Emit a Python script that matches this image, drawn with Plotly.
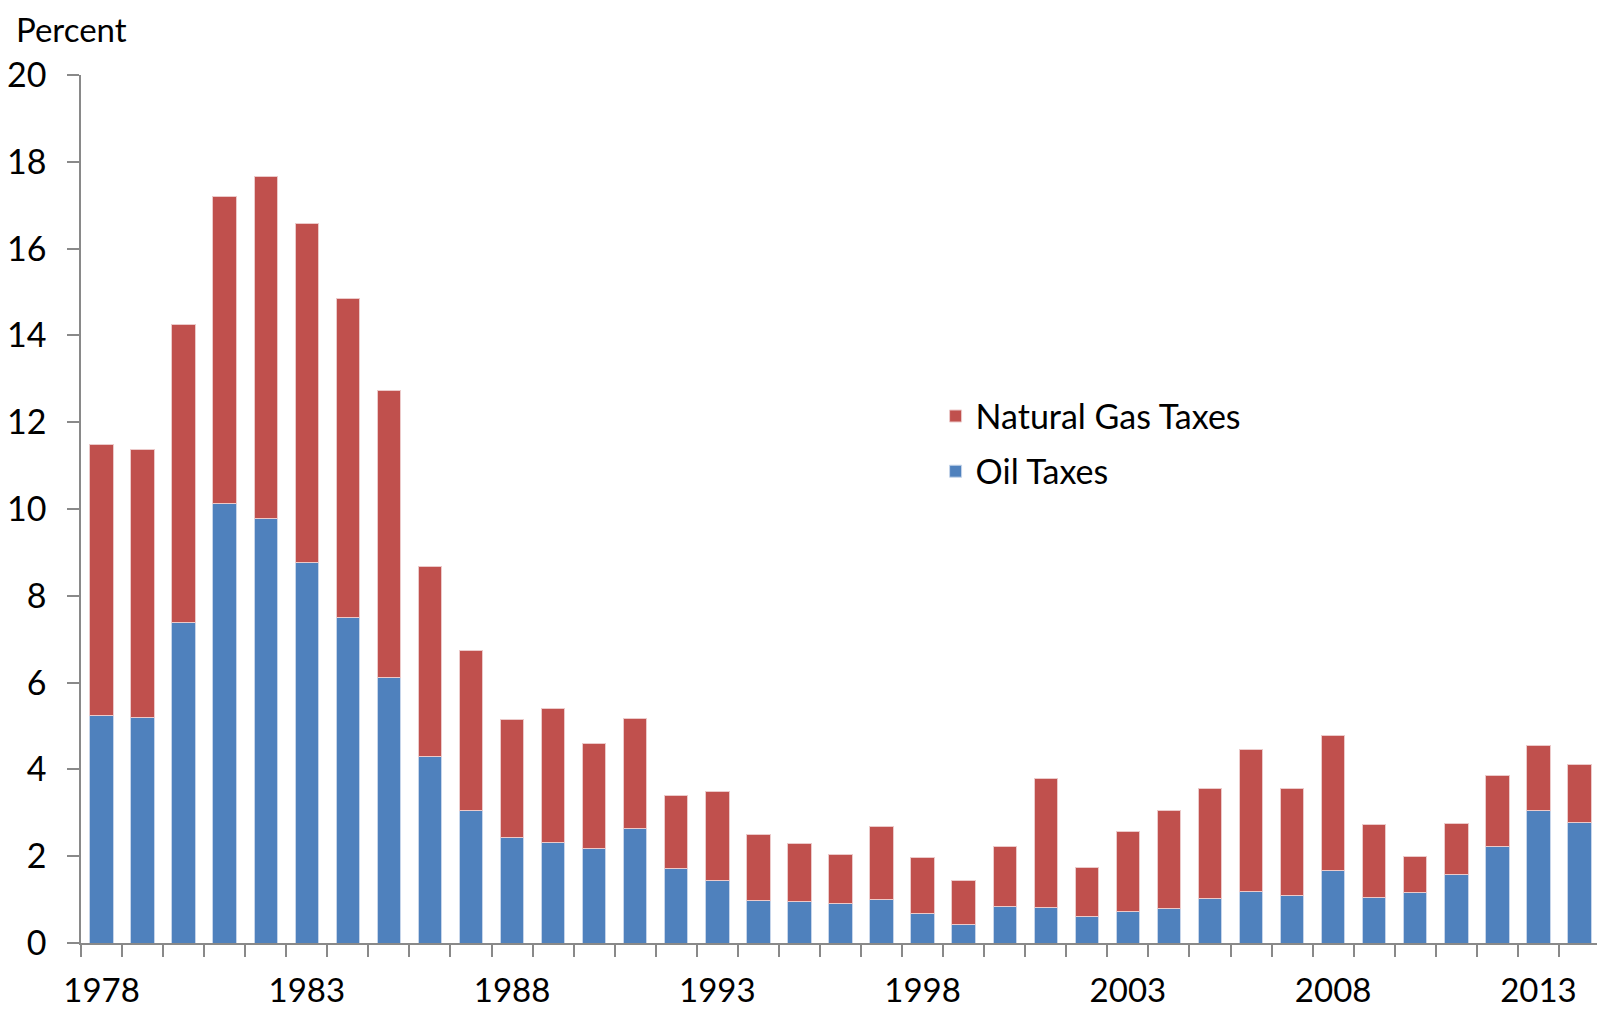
import plotly.graph_objects as go

years = [str(y) for y in range(1978, 2015)]

oil_taxes = [5.25, 5.19, 7.38, 10.13, 9.79, 8.76, 7.50, 6.12, 4.29, 3.05,
             2.42, 2.32, 2.18, 2.63, 1.72, 1.45, 0.99, 0.95, 0.92, 1.00,
             0.68, 0.43, 0.83, 0.82, 0.60, 0.72, 0.80, 1.03, 1.19, 1.09,
             1.66, 1.05, 1.16, 1.57, 2.23, 3.05, 2.77]

gas_taxes = [6.23, 6.17, 6.87, 7.08, 7.86, 7.82, 7.34, 6.61, 4.38, 3.70,
             2.73, 3.08, 2.42, 2.54, 1.69, 2.03, 1.50, 1.35, 1.12, 1.68,
             1.29, 1.02, 1.40, 2.97, 1.15, 1.85, 2.26, 2.54, 3.26, 2.47,
             3.11, 1.68, 0.83, 1.18, 1.62, 1.49, 1.35]

tick_labels = [y if (int(y) - 1978) % 5 == 0 else "" for y in years]

FONT = "Lato, 'Open Sans', sans-serif"
AXIS_GREY = "#898989"

fig = go.Figure()
fig.add_trace(go.Bar(
    x=years, y=oil_taxes, name="Oil Taxes",
    legendgroup="oil", legendrank=2,
    marker=dict(color="#4F81BD", line=dict(color="#c6d5ea", width=1))
))
fig.add_trace(go.Bar(
    x=years, y=gas_taxes, name="Natural Gas Taxes",
    legendgroup="gas", legendrank=1,
    marker=dict(color="#C0504D", line=dict(color="#eccaca", width=1))
))

# page body adds an 8px margin, so the figure is sized to fit inside the window
fig.update_layout(
    width=1597, height=1001,
    barmode="stack",
    bargap=0.43,
    plot_bgcolor="white",
    paper_bgcolor="white",
    font=dict(family=FONT, size=34, color="black"),
    margin=dict(l=73, r=5, t=67, b=66),
    legend=dict(
        x=0.5626, y=0.575, xanchor="left", yanchor="middle",
        traceorder="grouped",
        font=dict(size=34),
        bgcolor="rgba(0,0,0,0)",
        itemwidth=30,
        tracegroupgap=8,
    ),
    xaxis=dict(
        type="category",
        tickmode="array", tickvals=years, ticktext=tick_labels,
        tickson="boundaries", tickangle=0, automargin=False,
        ticks="outside", ticklen=12, tickwidth=1.5, tickcolor=AXIS_GREY,
        showline=True, linecolor=AXIS_GREY, linewidth=1.5,
        showgrid=False, zeroline=False,
        tickfont=dict(size=33),
        ticklabelstandoff=18,
    ),
    yaxis=dict(
        range=[0, 20], dtick=2, automargin=False,
        ticks="outside", ticklen=12, tickwidth=1.5, tickcolor=AXIS_GREY,
        showline=True, linecolor=AXIS_GREY, linewidth=1.5,
        showgrid=False, zeroline=False,
        ticklabelstandoff=14,
    ),
    annotations=[dict(
        text="Percent", xref="paper", yref="paper",
        x=-0.0435, y=1.0772, xanchor="left", yanchor="top",
        showarrow=False, font=dict(size=33), borderpad=0,
    )],
)

fig.write_html("out.html")
